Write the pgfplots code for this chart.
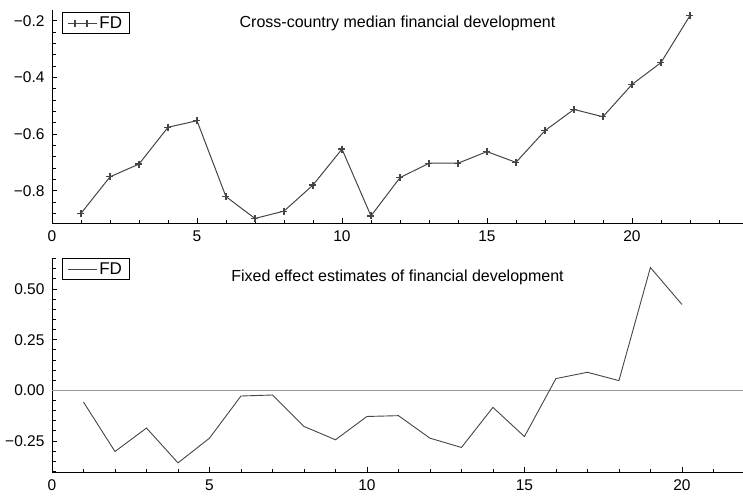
\documentclass[border=0pt]{standalone}
\usepackage{fontspec}
\setmainfont{Liberation Sans}
\usepackage{pgfplots}
\pgfplotsset{compat=1.18}

\definecolor{dataline}{HTML}{454545}
\definecolor{zeroline}{HTML}{999999}

\pgfplotsset{
  panel/.style={
    scale only axis,
    width=691pt,
    xmin=0,
    axis lines=left,
    axis line style={-, line width=1pt, black},
    tick align=inside,
    tick pos=left,
    major tick length=5pt,
    minor tick length=3.5pt,
    tick style={line width=0.8pt, black},
    xtick={0,5,10,15,20},
    xticklabels={0,5,10,15,20},
    ticklabel style={font=\fontsize{15.5}{18}\selectfont},
    xticklabel style={yshift=-4pt},
    yticklabel style={xshift=-4pt},
    legend cell align=left,
    legend style={draw=black, line width=0.8pt, inner xsep=5pt, inner ysep=2pt,
      font=\fontsize{17}{19}\selectfont, anchor=north west},
  },
}

\begin{document}
\begin{tikzpicture}
\path[use as bounding box] (0,0) rectangle (743pt,496pt);

% top panel: cross-country median
\begin{axis}[panel,
  at={(52pt,273pt)}, anchor=south west,
  height=213pt,
  xmax=23.83,
  ymin=-0.914, ymax=-0.162,
  minor xtick={1,2,...,23},
  ytick={-0.8,-0.6,-0.4,-0.2},
  yticklabels={−0.8,−0.6,−0.4,−0.2},
  minor ytick={-0.88,-0.84,-0.76,-0.72,-0.68,-0.64,-0.56,-0.52,-0.48,-0.44,-0.36,-0.32,-0.28,-0.24,-0.16},
  legend style={at={(0.0145,0.99)}},
  legend image code/.code={
    \draw[#1,mark=none] (0pt,0pt) -- (29pt,0pt);
    \path[#1,only marks] plot coordinates {(7pt,0pt) (19pt,0pt)};
  },
]
\addplot[dataline, line width=1pt, mark=+, mark size=3.5pt, mark options={line width=1.2pt}]
coordinates {
(1,-0.880) (2,-0.751) (3,-0.706) (4,-0.576) (5,-0.553) (6,-0.821)
(7,-0.898) (8,-0.872) (9,-0.780) (10,-0.653) (11,-0.889) (12,-0.754)
(13,-0.703) (14,-0.703) (15,-0.662) (16,-0.700) (17,-0.588) (18,-0.513)
(19,-0.539) (20,-0.425) (21,-0.348) (22,-0.182)
};
\addlegendentry{FD}
\node[font=\fontsize{16}{19}\selectfont] at (axis description cs:0.5,0.939)
  {Cross-country median financial development};
\end{axis}

% bottom panel: fixed effect estimates
\begin{axis}[panel,
  at={(52pt,24pt)}, anchor=south west,
  height=214pt,
  xmax=21.94,
  ymin=-0.403, ymax=0.653,
  minor xtick={1,2,...,21},
  ytick={-0.25,0,0.25,0.5},
  yticklabels={−0.25,0.00,0.25,0.50},
  minor ytick={-0.4,-0.35,-0.3,-0.2,-0.15,-0.1,-0.05,0.05,0.1,0.15,0.2,0.3,0.35,0.4,0.45,0.55,0.6,0.65},
  legend style={at={(0.0145,1.0)}},
  legend image code/.code={
    \draw[#1] (0pt,0pt) -- (29pt,0pt);
  },
]
\addplot[zeroline, line width=1.5pt, forget plot] coordinates {(0,0) (21.94,0)};
\addplot[dataline, line width=0.9pt]
coordinates {
(1,-0.058) (2,-0.302) (3,-0.186) (4,-0.358) (5,-0.236) (6,-0.028)
(7,-0.023) (8,-0.178) (9,-0.244) (10,-0.129) (11,-0.125) (12,-0.236)
(13,-0.282) (14,-0.084) (15,-0.228) (16,0.058) (17,0.089) (18,0.048)
(19,0.606) (20,0.424)
};
\addlegendentry{FD}
\node[font=\fontsize{16}{19}\selectfont] at (axis description cs:0.5,0.911)
  {Fixed effect estimates of financial development};
\end{axis}
\end{tikzpicture}
\end{document}
